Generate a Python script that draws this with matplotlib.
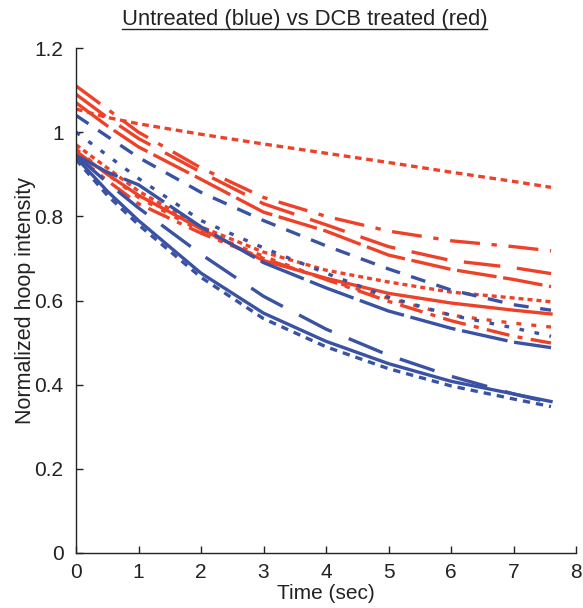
import matplotlib
matplotlib.use("Agg")
from matplotlib import pyplot as plt
from matplotlib.lines import Line2D

plt.rcParams['font.family'] = ['Liberation Sans', 'DejaVu Sans']

RED = '#EE4128'
BLUE = '#3A52A3'

# sample times (sec)
t = [0, 0.5, 1, 2, 3, 4, 5, 6, 7, 7.6]

# DCB treated (red)
red_dense_dot = [1.055, 1.035, 1.02, 0.995, 0.972, 0.95, 0.928, 0.905, 0.883, 0.869]
red_dashdot = [1.11, 1.055, 1.0, 0.915, 0.845, 0.80, 0.765, 0.742, 0.728, 0.718]
red_longdash = [1.09, 1.035, 0.985, 0.905, 0.83, 0.78, 0.728, 0.695, 0.678, 0.664]
red_dashed = [1.07, 1.015, 0.965, 0.888, 0.81, 0.765, 0.708, 0.674, 0.65, 0.633]
red_dotted = [0.97, 0.915, 0.86, 0.775, 0.715, 0.672, 0.644, 0.62, 0.606, 0.597]
red_solid = [0.955, 0.90, 0.85, 0.77, 0.695, 0.653, 0.617, 0.594, 0.577, 0.568]
red_sparse_dot = [0.96, 0.90, 0.845, 0.765, 0.705, 0.65, 0.605, 0.565, 0.546, 0.537]
red_dashdot2 = [0.945, 0.885, 0.83, 0.76, 0.70, 0.65, 0.598, 0.552, 0.515, 0.499]

# untreated (blue)
blue_dashed = [1.04, 0.99, 0.94, 0.857, 0.79, 0.73, 0.675, 0.625, 0.59, 0.577]
blue_dotted = [1.0, 0.945, 0.89, 0.79, 0.725, 0.665, 0.608, 0.565, 0.535, 0.515]
blue_longdash2 = [0.945, 0.905, 0.875, 0.775, 0.69, 0.63, 0.575, 0.534, 0.501, 0.488]
blue_solid = [0.94, 0.86, 0.79, 0.665, 0.57, 0.503, 0.45, 0.408, 0.378, 0.36]
blue_shortdash = [0.935, 0.85, 0.78, 0.655, 0.557, 0.49, 0.438, 0.397, 0.366, 0.348]
blue_longdash = [0.945, 0.88, 0.82, 0.71, 0.61, 0.532, 0.47, 0.42, 0.378, 0.357]

fig = plt.figure(figsize=(5.83, 6.08), dpi=100)
ax = fig.add_axes([0.1304, 0.0905, 0.8576, 0.8305])

lw = 2.4
ax.plot(t, red_dense_dot, color=RED, lw=lw, dashes=(2.0, 1.4))
ax.plot(t, red_dashdot, color=RED, lw=lw, dashes=(9, 3.5, 1.6, 3.5))
ax.plot(t, red_longdash, color=RED, lw=lw, dashes=(11, 5))
ax.plot(t, red_dashed, color=RED, lw=lw, dashes=(12, 2))
ax.plot(t, red_dotted, color=RED, lw=lw, dashes=(1.5, 1.2))
ax.plot(t, red_solid, color=RED, lw=lw)
ax.plot(t, red_sparse_dot, color=RED, lw=lw, dashes=(1.5, 3))
ax.plot(t, red_dashdot2, color=RED, lw=lw, dashes=(7, 2.5, 1.5, 2.5))

ax.plot(t, blue_dashed, color=BLUE, lw=lw, dashes=(4.5, 3.5))
ax.plot(t, blue_dotted, color=BLUE, lw=lw, dashes=(1.4, 3.2))
ax.plot(t, blue_longdash2, color=BLUE, lw=lw, dashes=(14, 2))
ax.plot(t, blue_solid, color=BLUE, lw=lw)
ax.plot(t, blue_shortdash, color=BLUE, lw=lw, dashes=(2.2, 1.8))
ax.plot(t, blue_longdash, color=BLUE, lw=lw, dashes=(11, 5.5))

ax.set_xlim(0, 8)
ax.set_ylim(0, 1.2)
ax.set_xticks(range(0, 9))
ax.set_yticks([0, 0.2, 0.4, 0.6, 0.8, 1, 1.2])
ax.set_yticklabels(['0', '0.2', '0.4', '0.6', '0.8', '1', '1.2'])
ax.spines['top'].set_visible(False)
ax.spines['right'].set_visible(False)
for s in ('left', 'bottom'):
    ax.spines[s].set_linewidth(1.0)
    ax.spines[s].set_color('#222222')
ax.tick_params(direction='in', length=5, width=1.0, labelsize=15, colors='#222222')
ax.tick_params(axis='x', pad=7)
ax.tick_params(axis='y', pad=9)
ax.set_xlabel('Time (sec)', fontsize=15, color='#222222', labelpad=2)
ax.set_ylabel('Normalized hoop intensity', fontsize=15.5, color='#222222', labelpad=-1)

title = fig.text(0.522, 0.968, 'Untreated (blue) vs DCB treated (red)', ha='center', va='center',
                 fontsize=15.8, color='#222222')
fig.canvas.draw()
bb = title.get_window_extent(fig.canvas.get_renderer()).transformed(fig.transFigure.inverted())
fig.add_artist(Line2D([bb.x0, bb.x1], [bb.y0 + 0.002, bb.y0 + 0.002], transform=fig.transFigure,
                      color='#222222', lw=1.0))

plt.savefig('out.png', dpi=100)
